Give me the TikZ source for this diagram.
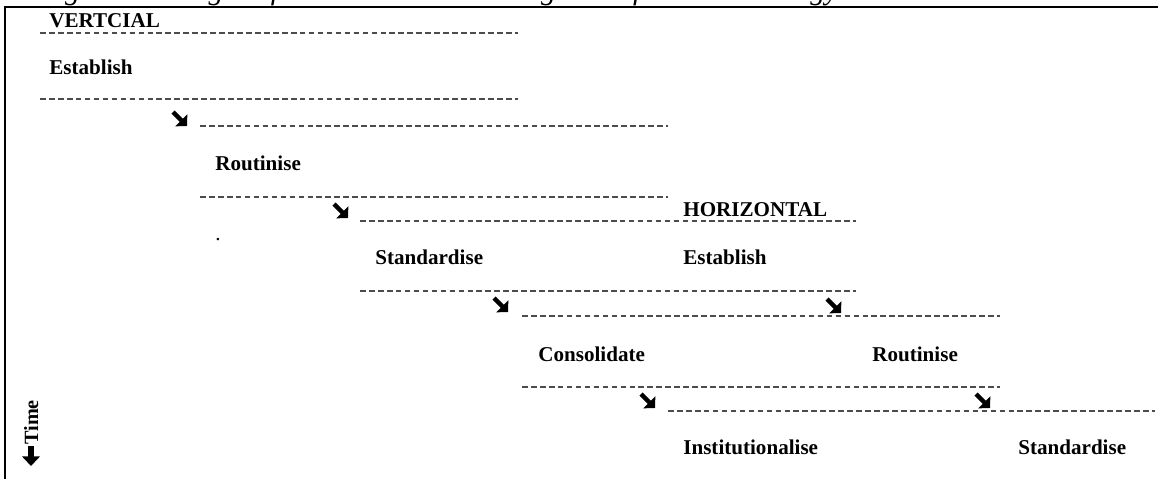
\documentclass[tikz,border=0pt]{standalone}
\usepackage{fontspec}
\setmainfont{Liberation Serif}
\usetikzlibrary{arrows.meta}
\begin{document}
\begin{tikzpicture}[x=0.02cm,y=-0.02cm,
  lbl/.style={anchor=base west,inner sep=0pt,font=\fontsize{12}{14}\selectfont\bfseries},
  sep/.style={dash pattern=on 3.2pt off 1.9pt,line width=0.6pt,black!70},
  diagarrow/.style={line width=2.5pt,-{Triangle[length=4.6pt,width=9.5pt]}},
  frame/.style={line width=1.15pt}]
\useasboundingbox (0,0) rectangle (1158,479);
% caption (clipped at top)
\node[anchor=base west,inner sep=0pt,font=\fontsize{17}{19}\selectfont\itshape] (cap) at (20,0) {Diagram 1: Stages of the institutional emergence of the wind energy market in Australia};
% frame
\coordinate (fbl) at (5,485);
\coordinate (ftl) at (5,7);
\coordinate (ftr) at (1165,7);
\draw[frame] (fbl) -- (ftl) -- (ftr);
% separators
\foreach \n/\y/\xa/\xb in {1/33/40/518, 2/99/40/518, 3/126/200/668, 4/197/200/668, 5/221/360/856, 6/291/360/856, 7/316/522/1000, 8/387/522/1000, 9/411/668/1155}{
  \coordinate (s\n a) at (\xa,\y);
  \coordinate (s\n b) at (\xb,\y);
  \draw[sep] (s\n a) -- (s\n b);
}
% labels
\node[lbl] (vert) at (49,28) {VERTCIAL};
\node[lbl] (v1) at (49,75) {Establish};
\node[lbl] (v2) at (215,171) {Routinise};
\node[anchor=base west,inner sep=0pt,font=\fontsize{12}{14}\selectfont] (dot) at (215,241) {.};
\node[lbl] (v3) at (375,265) {Standardise};
\node[lbl] (v4) at (538,361) {Consolidate};
\node[lbl] (v5) at (683,454) {Institutionalise};
\node[lbl] (hor) at (683,217) {HORIZONTAL};
\node[lbl] (h1) at (683,265) {Establish};
\node[lbl] (h2) at (872,361) {Routinise};
\node[lbl] (h3) at (1018,454) {Standardise};
% diagonal arrows
\foreach \n/\x/\y in {1/172/111, 2/333/203, 3/493/297, 4/826/298, 5/640/393, 6/975/393}{
  \coordinate (a\n s) at (\x+1,\y+1);
  \coordinate (a\n e) at (\x+15,\y+15);
  \draw[diagarrow] (a\n s) -- (a\n e);
}
% time axis
\node[anchor=base west,inner sep=0pt,rotate=90,font=\fontsize{11.5}{13}\selectfont\bfseries] (time) at (38,445) {Time};
\coordinate (ts) at (31,446);
\coordinate (te) at (31,466);
\draw[line width=3pt,-{Triangle[length=5.5pt,width=10pt]}] (ts) -- (te);
\end{tikzpicture}
\end{document}
